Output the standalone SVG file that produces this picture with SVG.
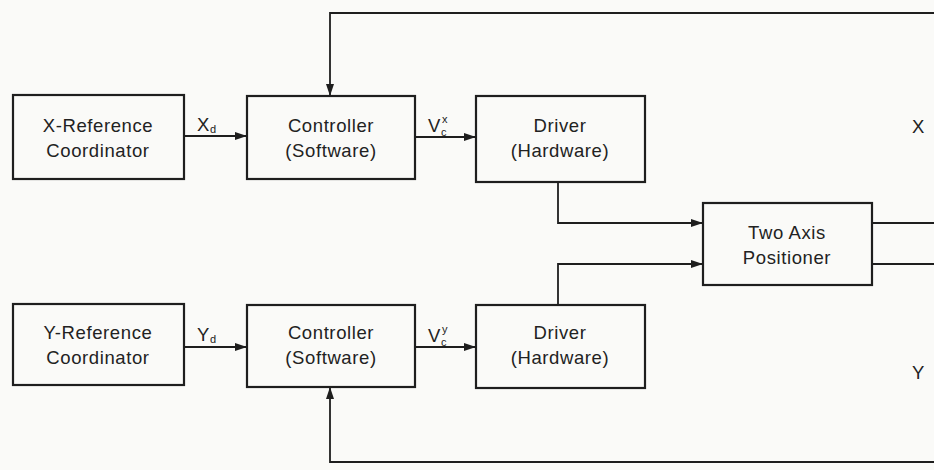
<svg xmlns="http://www.w3.org/2000/svg" width="934" height="470" viewBox="0 0 934 470">
<style>
.box{fill:none;stroke:#1e1e1e;stroke-width:2.2}
.ln{fill:none;stroke:#1e1e1e;stroke-width:1.8}
text{font-family:"Liberation Sans",Arial,sans-serif;font-size:18.5px;letter-spacing:0.6px;fill:#222}
.c{text-anchor:middle}
.sm{font-size:11px;letter-spacing:0}
</style>
<defs>
<marker id="ah" markerWidth="12" markerHeight="8" refX="11" refY="4" orient="auto" markerUnits="userSpaceOnUse">
<path d="M0,0 L12,4 L0,8 Z" fill="#1e1e1e"/>
</marker>
</defs>
<rect width="934" height="470" fill="#fafaf8"/>
<g id="xref"><rect class="box" x="13" y="95" width="171" height="84"/><text class="c" x="98" y="132">X-Reference</text><text class="c" x="98" y="157">Coordinator</text></g>
<g id="xctrl"><rect class="box" x="247" y="96" width="168" height="83"/><text class="c" x="331" y="132">Controller</text><text class="c" x="331" y="157">(Software)</text></g>
<g id="xdrv"><rect class="box" x="476" y="96" width="169" height="86"/><text class="c" x="560" y="132">Driver</text><text class="c" x="560" y="157">(Hardware)</text></g>
<g id="yref"><rect class="box" x="13" y="304" width="171" height="81"/><text class="c" x="98" y="339">Y-Reference</text><text class="c" x="98" y="364">Coordinator</text></g>
<g id="yctrl"><rect class="box" x="247" y="305" width="168" height="82"/><text class="c" x="331" y="339">Controller</text><text class="c" x="331" y="364">(Software)</text></g>
<g id="ydrv"><rect class="box" x="476" y="305" width="169" height="83"/><text class="c" x="560" y="339">Driver</text><text class="c" x="560" y="364">(Hardware)</text></g>
<g id="pos"><rect class="box" x="703" y="203" width="169" height="82"/><text class="c" x="787" y="239">Two Axis</text><text class="c" x="787" y="264">Positioner</text></g>
<g id="connectors">
<line class="ln" x1="184" y1="136" x2="246" y2="136" marker-end="url(#ah)"/>
<line class="ln" x1="415" y1="137" x2="475" y2="137" marker-end="url(#ah)"/>
<line class="ln" x1="184" y1="347" x2="246" y2="347" marker-end="url(#ah)"/>
<line class="ln" x1="415" y1="347" x2="475" y2="347" marker-end="url(#ah)"/>
<polyline class="ln" points="558,182 558,223 702,223" marker-end="url(#ah)"/>
<polyline class="ln" points="558,305 558,264 702,264" marker-end="url(#ah)"/>
<line class="ln" x1="872" y1="223" x2="934" y2="223"/>
<line class="ln" x1="872" y1="264" x2="934" y2="264"/>
<polyline class="ln" points="934,13 330,13 330,95" marker-end="url(#ah)"/>
<polyline class="ln" points="934,462 330,462 330,388" marker-end="url(#ah)"/>
</g>
<g id="labels">
<text x="197" y="131">X<tspan class="sm" dy="2">d</tspan></text>
<text x="197" y="341">Y<tspan class="sm" dy="2">d</tspan></text>
<text x="428" y="132">V</text><text class="sm" x="441" y="136">c</text><text class="sm" x="442" y="123">x</text>
<text x="428" y="342">V</text><text class="sm" x="441" y="346">c</text><text class="sm" x="442" y="333">y</text>
<text x="912" y="133">X</text>
<text x="912" y="379">Y</text>
</g>
</svg>
